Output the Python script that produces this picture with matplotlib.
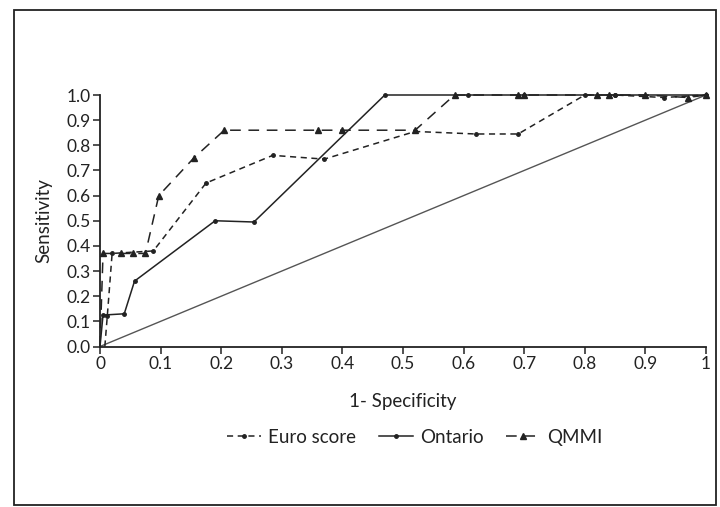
import matplotlib.pyplot as plt
from matplotlib.patches import Rectangle

plt.rcParams['font.family'] = ['Lato', 'DejaVu Sans']

# ROC points
euro_x = [0.008, 0.012, 0.02, 0.088, 0.175, 0.285, 0.37, 0.52, 0.62, 0.69, 0.80, 0.85, 0.93, 1.0]
euro_y = [0.0, 0.12, 0.37, 0.38, 0.65, 0.76, 0.745, 0.855, 0.845, 0.845, 1.0, 1.0, 0.99, 1.0]

ontario_x = [0.0, 0.005, 0.04, 0.057, 0.19, 0.254, 0.47, 0.607, 0.70, 0.85, 1.0]
ontario_y = [0.0, 0.125, 0.13, 0.26, 0.5, 0.495, 1.0, 1.0, 1.0, 1.0, 1.0]

qmmi_x = [0.0, 0.005, 0.035, 0.055, 0.075, 0.097, 0.155, 0.205, 0.36, 0.40, 0.52, 0.585,
          0.69, 0.70, 0.82, 0.84, 0.90, 0.97, 1.0]
qmmi_y = [0.0, 0.37, 0.37, 0.37, 0.37, 0.60, 0.75, 0.86, 0.86, 0.86, 0.86, 1.0,
          1.0, 1.0, 1.0, 1.0, 1.0, 0.99, 1.0]

x_ticks = [0, 0.1, 0.2, 0.3, 0.4, 0.5, 0.6, 0.7, 0.8, 0.9, 1]
x_labels = ['0', '0.1', '0.2', '0.3', '0.4', '0.5', '0.6', '0.7', '0.8', '0.9', '1']
y_ticks = [0.0, 0.1, 0.2, 0.3, 0.4, 0.5, 0.6, 0.7, 0.8, 0.9, 1.0]

fig = plt.figure(figsize=(7.2, 5.07), dpi=100)
fig.patches.append(Rectangle((14 / 720, 2 / 507), 702 / 720, 495 / 507, transform=fig.transFigure,
                             fill=False, edgecolor='#222222', linewidth=1.3))
ax = fig.add_axes([100 / 720, 1 - 346.5 / 507, 606 / 720, 251.5 / 507])

# diagonal reference
ax.plot([0, 1], [0, 1], color='#555555', lw=1.0, clip_on=False)

ax.plot(euro_x, euro_y, color='#222222', lw=1.1, ls=(0, (4, 3)), marker='o', ms=2.5,
        markevery=list(range(1, len(euro_x))), clip_on=False, label='Euro score')
ax.plot(ontario_x, ontario_y, color='#222222', lw=1.1, ls='-', marker='o', ms=2.5,
        markevery=list(range(1, len(ontario_x))), clip_on=False, label='Ontario')
ax.plot(qmmi_x, qmmi_y, color='#222222', lw=1.1, ls=(0, (7, 5)), marker='^', ms=4.5,
        markevery=list(range(1, len(qmmi_x))), clip_on=False, label='QMMI')

ax.set_xlim(0, 1)
ax.set_ylim(0, 1)
ax.set_xticks(x_ticks)
ax.set_xticklabels(x_labels)
ax.set_yticks(y_ticks)
ax.set_yticklabels(['%.1f' % v for v in y_ticks])
for s in ['top', 'right']:
    ax.spines[s].set_visible(False)
for s in ['left', 'bottom']:
    ax.spines[s].set_linewidth(1.3)
    ax.spines[s].set_color('#222222')
ax.tick_params(direction='out', length=5, width=1.1, labelsize=12.5, colors='#222222', pad=2)

ax.set_xlabel('1- Specificity', fontsize=13.5, labelpad=15, color='#222222')
ax.set_ylabel('Sensitivity', fontsize=13.5, labelpad=10, color='#222222')

ax.legend(loc='upper center', bbox_to_anchor=(0.52, -0.29), ncol=3, frameon=False,
          fontsize=13.5, handlelength=1.8, columnspacing=1.2, handletextpad=0.4,
          borderpad=0, labelcolor='#222222')

fig.savefig('out.png', dpi=100)
